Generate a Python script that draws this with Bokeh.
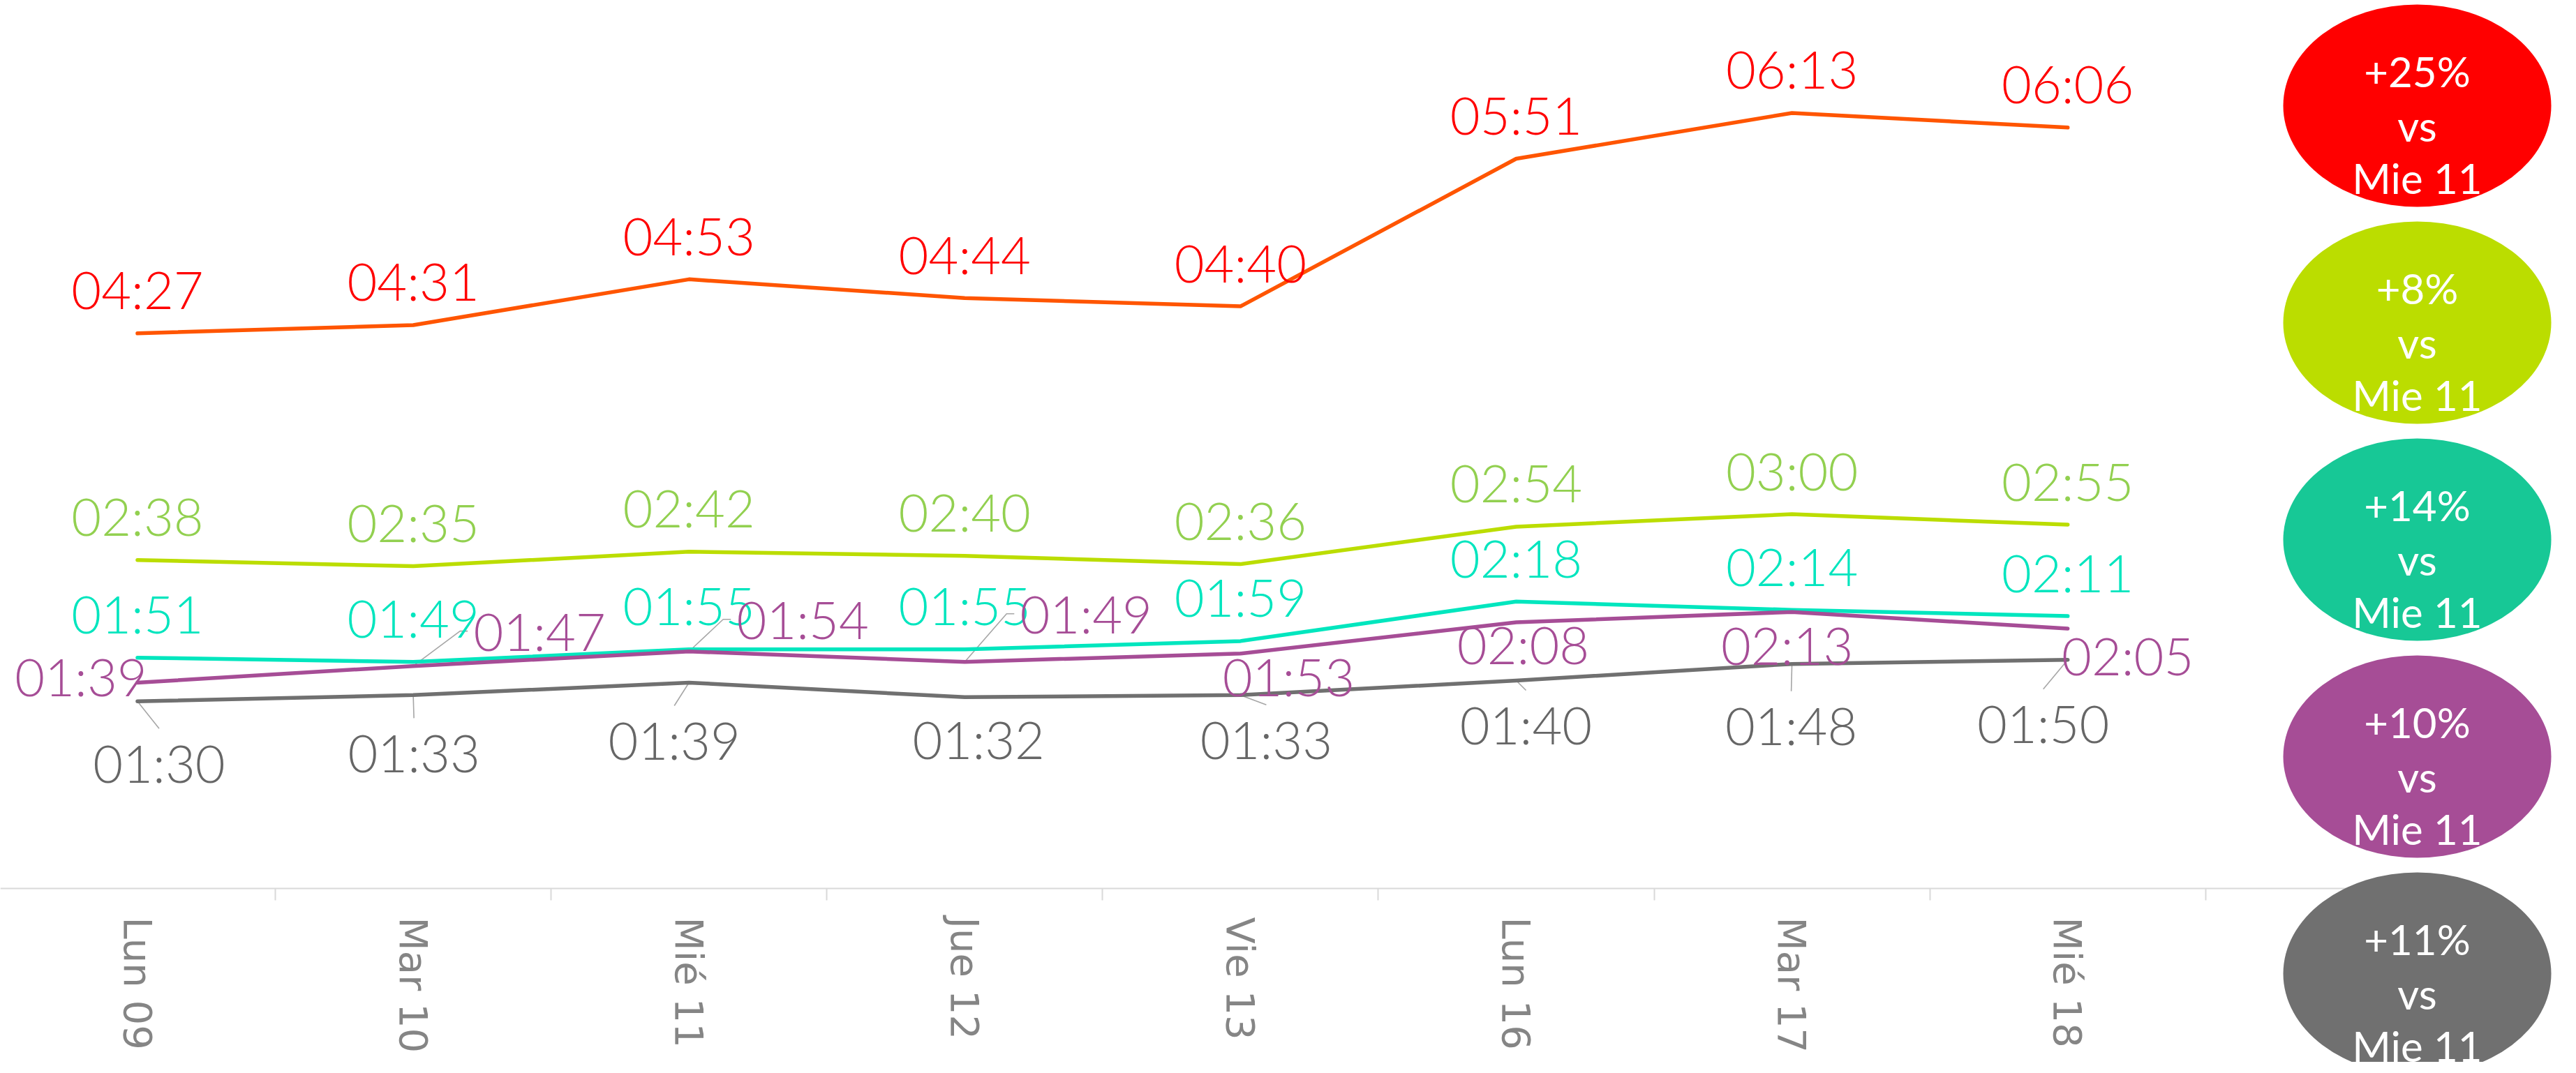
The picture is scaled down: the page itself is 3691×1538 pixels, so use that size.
import math
from bokeh.plotting import figure
from bokeh.models import (LinearAxis, FixedTicker, Range1d, ColumnDataSource)
from bokeh.core.properties import value
from bokeh.embed import file_html
from bokeh.resources import INLINE

# ---------------- data ----------------
categories = ["Lun  09", "Mar 10", "Mié  11", "Jue 12", "Vie 13", "Lun 16", "Mar 17", "Mié 18"]

def secs(t):
    m, s = t.split(":")
    return int(m) * 60 + int(s)

red_labels    = ["04:27", "04:31", "04:53", "04:44", "04:40", "05:51", "06:13", "06:06"]
lime_labels   = ["02:38", "02:35", "02:42", "02:40", "02:36", "02:54", "03:00", "02:55"]
teal_labels   = ["01:51", "01:49", "01:55", "01:55", "01:59", "02:18", "02:14", "02:11"]
purple_labels = ["01:39", "01:47", "01:54", "01:49", "01:53", "02:08", "02:13", "02:05"]
gray_labels   = ["01:30", "01:33", "01:39", "01:32", "01:33", "01:40", "01:48", "01:50"]

badge_pct = ["+25%", "+8%", "+14%", "+10%", "+11%"]
badge_ref = "Mie 11"

# ---------------- styles / layout ----------------
W, H = 3675, 1522
line_colors  = ["#FF5500", "#BBDD00", "#00E6BE", "#A64D96", "#707070"]
label_colors = ["#FF0000", "#92D050", "#00E5BE", "#A64D96", "#666666"]
badge_colors = ["#FF0000", "#BBDD00", "#17C896", "#A64D96", "#707070"]

above = [(0, -63)] * 8
purple_off = [(-81, -9), (181, -50), (163, -46), (174, -69), (69, 33), (10, 31), (-7, 47), (86, 38)]
purple_leader = [False, True, True, True, False, False, False, False]
gray_off = [(31, 88), (1, 82), (-21, 82), (20, 60), (37, 63), (14, 63), (-1, 88), (-35, 91)]
gray_leader = [True, True, True, False, True, True, True, True]

# pixel mapping of the reference: category spacing and seconds scale
px_per_cat = 395.1
px_per_sec = 2.98
x0_px = 204.5 - 8   # first category centre in figure pixels
y0_px = 1281 - 8    # zero line in figure pixels

x_start = -x0_px / px_per_cat
x_end = (W - x0_px) / px_per_cat
y_end = y0_px / px_per_sec
y_start = (y0_px - H) / px_per_sec

p = figure(width=W, height=H, output_backend="svg", toolbar_location=None,
           x_range=Range1d(x_start, x_end), y_range=Range1d(y_start, y_end),
           x_axis_location=None, y_axis_location=None,
           min_border=0, min_border_left=0, min_border_right=0,
           min_border_top=0, min_border_bottom=0)
p.outline_line_color = None
p.xgrid.visible = False
p.ygrid.visible = False
p.background_fill_color = "white"
p.border_fill_color = "white"

# category axis fixed at zero
xs = list(range(len(categories)))
axis = LinearAxis(fixed_location=0,
                  ticker=FixedTicker(ticks=xs, minor_ticks=[i - 0.5 for i in range(len(categories) + 1)]),
                  bounds=(-0.5, 8.15))
axis.major_label_overrides = {i: c for i, c in enumerate(categories)}
axis.major_label_orientation = "vertical"
axis.major_tick_line_color = None
axis.major_tick_out = 0
axis.major_tick_in = 0
axis.minor_tick_in = 0
axis.minor_tick_out = 17
axis.minor_tick_line_color = "#D9D9D9"
axis.minor_tick_line_width = 2
axis.axis_line_color = "#D9D9D9"
axis.axis_line_width = 2
axis.major_label_standoff = 24
axis.major_label_text_font = "DejaVu Sans"
axis.major_label_text_font_size = "56px"
axis.major_label_text_color = "#858585"
p.add_layout(axis, "below")

series = [
    (red_labels, above, None, None),
    (lime_labels, above, None, None),
    (teal_labels, above, None, None),
    (purple_labels, purple_off, purple_leader, "purple"),
    (gray_labels, gray_off, gray_leader, "gray"),
]

# leader lines (under the series lines)
lx, ly = [], []
for labels, offs, leaders, kind in series:
    if leaders is None:
        continue
    vals = [secs(t) for t in labels]
    for i, v in enumerate(vals):
        if not leaders[i]:
            continue
        dx, dy = offs[i]
        if kind == "gray":
            pts = [(0, 0), (dx, dy - 49)]
        else:
            nub_end = dx - 92 - 11
            pts = [(0, 0), (nub_end - 11, dy), (nub_end, dy)]
        lx.append([i + a / px_per_cat for a, b in pts])
        ly.append([v - b / px_per_sec for a, b in pts])
p.multi_line(lx, ly, line_color="#A6A6A6", line_width=1.6)

# series lines
for k, (labels, offs, leaders, kind) in enumerate(series):
    vals = [secs(t) for t in labels]
    p.line(xs, vals, line_color=line_colors[k], line_width=5.5, line_join="round", line_cap="round")

# data labels
for k, (labels, offs, leaders, kind) in enumerate(series):
    vals = [secs(t) for t in labels]
    src = ColumnDataSource(dict(x=xs, y=vals, t=labels,
                                xo=[o[0] for o in offs], yo=[o[1] for o in offs]))
    p.text(x="x", y="y", text="t", x_offset="xo", y_offset="yo", source=src,
           text_color=label_colors[k], text_font=value("Lato Light"),
           text_font_size="74px", text_align="center", text_baseline="middle")

# summary badges (pixel coordinates of the figure)
p.extra_x_ranges["px"] = Range1d(0, W)
p.extra_y_ranges["px"] = Range1d(H, 0)
badge_cx = 3471 - 8
badge_top = 159 - 8
badge_step = 311
bx = [badge_cx] * len(badge_pct)
by = [badge_top + i * badge_step for i in range(len(badge_pct))]
e = p.ellipse(x=bx, y=by, width=384, height=290, width_units="screen", height_units="screen",
              fill_color=badge_colors, line_color=None,
              x_range_name="px", y_range_name="px")
e.level = "overlay"
for line_text, dy in [(badge_pct, -50), (["vs"] * 5, 28), ([badge_ref] * 5, 103)]:
    t = p.text(x=bx, y=[b + dy for b in by], text=line_text, text_color="white",
               text_font=value("Lato"), text_font_size="60px",
               text_align="center", text_baseline="middle",
               x_range_name="px", y_range_name="px")
    t.level = "overlay"

open("out.html", "w").write(file_html(p, INLINE))
